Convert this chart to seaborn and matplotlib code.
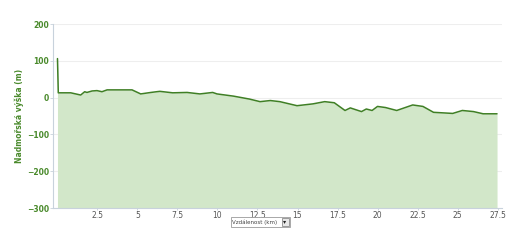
import matplotlib
matplotlib.use("Agg")
import matplotlib.pyplot as plt
import seaborn as sns
import pandas as pd

distance_km = [0.0, 0.05, 0.83, 1.45, 1.7, 1.84, 2.16, 2.47, 2.78, 3.1, 4.66, 5.2, 5.84,
               6.2, 6.4, 7.2, 8.1, 8.9, 9.7, 9.97, 11.0, 12.0, 12.66, 13.3, 13.9, 14.97,
               15.97, 16.7, 17.3, 17.97, 18.3, 19.0, 19.3, 19.66, 20.0, 20.5, 21.2, 22.2,
               22.84, 23.5, 24.7, 25.3, 26.0, 26.6, 27.47]
elevation_m = [106, 13, 13, 7, 16, 14, 18, 19, 16, 21, 21, 10, 14,
               16, 17, 13, 14, 10, 14, 10, 4, -4, -11, -8, -11, -22,
               -17, -11, -14, -35, -28, -38, -31, -35, -24, -27, -35, -20,
               -24, -40, -43, -35, -38, -44, -44]
y_ticks = [-300, -200, -100, 0, 100, 200]
x_ticks = [2.5, 5, 7.5, 10, 12.5, 15, 17.5, 20, 22.5, 25, 27.5]
x_tick_labels = ["2.5", "5", "7.5", "10", "12.5", "15", "17.5", "20", "22.5", "25", "27.5"]

df = pd.DataFrame({"km": distance_km, "m": elevation_m})

sns.set_style("white")
plt.rcParams["font.family"] = ["DejaVu Sans"]

fig = plt.figure(figsize=(5.2, 2.4), dpi=100)
ax = fig.add_axes([53 / 520, 1 - 208 / 240, (502 - 53) / 520, (208 - 24) / 240])

line_color = "#3f7f25"
ax.fill_between(df["km"], df["m"], -300, color="#d2e7c9", linewidth=0, zorder=2)
sns.lineplot(data=df, x="km", y="m", ax=ax, color=line_color, linewidth=1.1, zorder=3)

ax.set_xlim(-0.28, 27.78)
ax.set_ylim(-300, 200)
ax.set_yticks(y_ticks)
ax.set_xticks(x_ticks)
ax.set_xticklabels(x_tick_labels)
ax.yaxis.grid(True, color="#eeeeee", linewidth=0.8, zorder=0)
ax.set_axisbelow(True)

for side in ["top", "right"]:
    ax.spines[side].set_visible(False)
ax.spines["left"].set_color("#c8d2dc")
ax.spines["left"].set_linewidth(0.8)
ax.spines["bottom"].set_color("#c8d2dc")
ax.spines["bottom"].set_linewidth(0.8)

ax.tick_params(axis="y", labelsize=5.5, labelcolor="#4a8a2c", length=2, width=0.6,
               color="#c8d2dc", pad=1, left=True)
for lbl in ax.get_yticklabels():
    lbl.set_fontweight("bold")
ax.tick_params(axis="x", labelsize=5.5, labelcolor="#555555", length=1.5, width=0.6,
               color="#c8d2dc", pad=0.5, bottom=True)

ax.set_xlabel("")
ax.set_ylabel("Nadmořská výška (m)", fontsize=5.5, fontweight="bold", color="#4a8a2c", labelpad=2)

# distance selector box
fig.patches.append(plt.Rectangle((231 / 520, 1 - 227 / 240), 59 / 520, 10.5 / 240,
                                 transform=fig.transFigure, facecolor="white",
                                 edgecolor="#9a9a9a", linewidth=0.6))
fig.text(232.5 / 520, 1 - 221.8 / 240, "Vzdálenost (km)", fontsize=4.0, color="#444444",
         va="center", ha="left")
fig.patches.append(plt.Rectangle((281.5 / 520, 1 - 225.8 / 240), 7 / 520, 8 / 240,
                                 transform=fig.transFigure, facecolor="#e8e8e8",
                                 edgecolor="#777777", linewidth=0.5))
fig.text(285 / 520, 1 - 221.8 / 240, "▾", fontsize=4.5, color="#222222",
         va="center", ha="center")

fig.savefig("out.png", dpi=100, facecolor="white")
